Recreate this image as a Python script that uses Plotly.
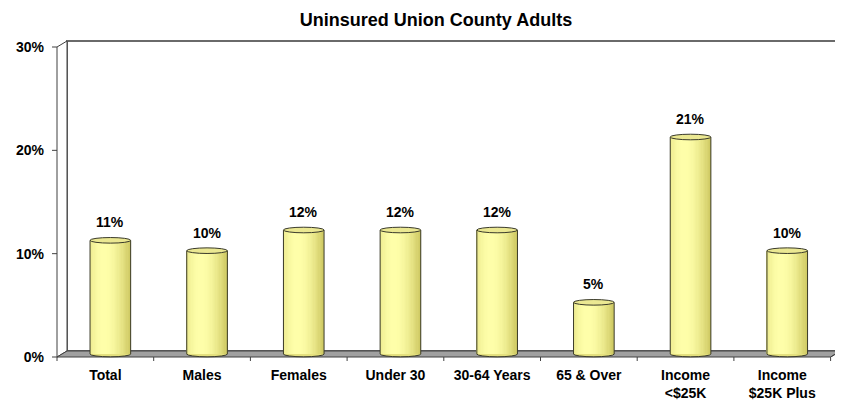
import numpy as np
import plotly.graph_objects as go

# ---- data ----
categories = ["Total", "Males", "Females", "Under 30", "30-64 Years",
              "65 & Over", "Income<br>&lt;$25K", "Income<br>$25K Plus"]
values = [11, 10, 12, 12, 12, 5, 21, 10]
y_ticks = [0, 10, 20, 30]
y_ticktext = ["0%", "10%", "20%", "30%"]
title = "Uninsured Union County Adults"

# ---- geometry (window pixels) ----
OFF = 8                     # default page body margin
W, H = 843 - OFF, 402 - OFF
FX0, FY0 = 57, 357          # front-left-bottom corner of the 3D box
DX, DY = 10, 6              # depth offset (back wall)
CAT_W = 96.7                # pixels per category
PPU = 10.333                # pixels per percent
YMAX = 30
YLO, YHI = -1.0, 30.5
NC = len(categories)
BAR_W = 0.42                # in category units
N_STRIPE = 32
FONT = "Arial, Liberation Sans, sans-serif"


def px(x):
    return (x - OFF) / W


def py(y):
    return 1 - (y - OFF) / H


MX0, MY0 = FX0 + DX / 2, FY0 - DY / 2   # mid-depth plane (where bars sit)
x_dom = [px(MX0), px(MX0 + NC * CAT_W)]
y_dom = [py(MY0 - YLO * PPU), py(MY0 - YHI * PPU)]

idx = np.arange(NC)
fig = go.Figure()

# cylinder body: gradient stripes
light = np.array([255, 255, 170])
dark = np.array([200, 194, 88])
for k in range(N_STRIPE):
    t = (k + 0.5) / N_STRIPE
    if t >= 0.35:
        s = np.cos(np.pi / 2 * (t - 0.35) / 0.65 * 0.92)
    else:
        s = np.cos(np.pi / 2 * (0.35 - t) / 0.35 * 0.55)
    c = dark + s * (light - dark)
    fig.add_trace(go.Bar(
        x=idx, y=values, width=BAR_W / N_STRIPE,
        offset=-BAR_W / 2 + k * BAR_W / N_STRIPE,
        marker=dict(color="rgb(%d,%d,%d)" % tuple(c.astype(int)), line=dict(width=0)),
        hoverinfo="skip", showlegend=False))

# cylinder side edges
ex, ey = [], []
for i, v in zip(idx, values):
    for side in (-1, 1):
        ex += [i + side * BAR_W / 2, i + side * BAR_W / 2, None]
        ey += [0, v, None]
fig.add_trace(go.Scatter(x=ex, y=ey, mode="lines", line=dict(color="#3a3a2a", width=1),
                         hoverinfo="skip", showlegend=False))

shapes = []
# walls & floor (paper coordinates)
bx0, bx1 = FX0 + DX, FX0 + DX + NC * CAT_W
by0, by1 = FY0 - DY, FY0 - DY - YMAX * PPU
shapes.append(dict(type="rect", xref="paper", yref="paper", layer="below",
                   x0=px(bx0), x1=px(bx1), y0=py(by0), y1=py(by1),
                   fillcolor="white", line=dict(color="#6a6a6a", width=2)))
lw = "M %f %f L %f %f L %f %f L %f %f Z" % (
    px(FX0), py(FY0), px(bx0), py(by0), px(bx0), py(by1), px(FX0), py(FY0 - YMAX * PPU))
shapes.append(dict(type="path", xref="paper", yref="paper", layer="below", path=lw,
                   fillcolor="white", line=dict(color="#404040", width=1)))
fr = FX0 + NC * CAT_W
fl = "M %f %f L %f %f L %f %f L %f %f Z" % (
    px(FX0), py(FY0), px(bx0), py(by0), px(bx1), py(by0), px(fr), py(FY0))
shapes.append(dict(type="path", xref="paper", yref="paper", layer="below", path=fl,
                   fillcolor="#a0a0a0", line=dict(color="#404040", width=1)))
# right wall edge
shapes.append(dict(type="line", xref="paper", yref="paper", layer="below",
                   x0=px(fr), y0=py(FY0), x1=px(bx1), y1=py(by0),
                   line=dict(color="#404040", width=1)))
# category tick marks on the front floor edge
for k in range(NC + 1):
    xx = FX0 + k * CAT_W
    shapes.append(dict(type="line", xref="paper", yref="paper",
                       x0=px(xx), x1=px(xx), y0=py(FY0), y1=py(FY0 + 4),
                       line=dict(color="#404040", width=1)))
# value tick marks on the front left edge
for tv in y_ticks:
    yy = FY0 - tv * PPU
    shapes.append(dict(type="line", xref="paper", yref="paper",
                       x0=px(FX0 - 5), x1=px(FX0), y0=py(yy), y1=py(yy),
                       line=dict(color="#404040", width=1)))

# cylinder bottoms and tops
EH = 2.8 / PPU
for i, v in zip(idx, values):
    shapes.append(dict(type="circle", xref="x", yref="y", layer="below",
                       x0=i - BAR_W / 2, x1=i + BAR_W / 2, y0=-EH, y1=EH,
                       fillcolor="#e4e07e", line=dict(color="#3a3a2a", width=1)))
    shapes.append(dict(type="circle", xref="x", yref="y", layer="above",
                       x0=i - BAR_W / 2, x1=i + BAR_W / 2, y0=v - EH, y1=v + EH,
                       fillcolor="#ebe892", line=dict(color="#3a3a2a", width=1)))

annotations = []
for i, v in zip(idx, values):
    annotations.append(dict(x=i, y=v, xref="x", yref="y", text="%d%%" % v,
                            showarrow=False, yanchor="bottom", yshift=8,
                            font=dict(family=FONT, size=14, color="black", weight="bold")))

fig.update_layout(
    width=W, height=H,
    margin=dict(l=0, r=0, t=0, b=0),
    paper_bgcolor="white", plot_bgcolor="rgba(0,0,0,0)",
    barmode="overlay",
    title=dict(text="<b>%s</b>" % title, x=px(436), xanchor="center", y=py(20),
               yanchor="middle", font=dict(family=FONT, size=18, color="black")),
    xaxis=dict(domain=x_dom, range=[-0.5, NC - 0.5], tickvals=idx, ticktext=categories,
               showgrid=False, zeroline=False, showline=False, ticks="",
               anchor="free", position=py(FY0),
               ticklabelshift=-int(DX / 2), ticklabelstandoff=8,
               tickfont=dict(family=FONT, size=14, color="black", weight="bold")),
    yaxis=dict(domain=y_dom, range=[YLO, YHI], tickvals=y_ticks, ticktext=y_ticktext,
               showgrid=False, zeroline=False, showline=False, ticks="",
               anchor="free", position=px(FX0), ticklabelshift=int(DY / 2),
               ticklabelstandoff=13,
               tickfont=dict(family=FONT, size=14, color="black", weight="bold")),
    shapes=shapes, annotations=annotations, showlegend=False,
)

fig.write_html("out.html")
